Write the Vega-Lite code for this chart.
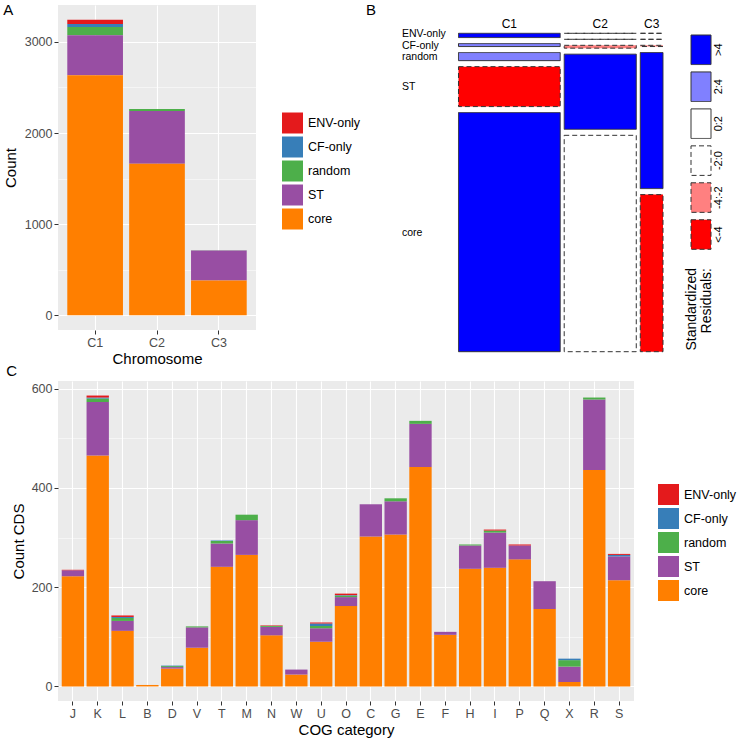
{
  "$schema": "https://vega.github.io/schema/vega-lite/v6.json",
  "padding": {"left": 3, "top": 3, "right": 0, "bottom": 0},
  "background": "white",
  "config": {
    "font": "Liberation Sans",
    "view": {"stroke": null},
    "axis": {
      "domain": false, "tickColor": "#333333", "tickSize": 4, "tickWidth": 1,
      "labelColor": "#4D4D4D", "labelFontSize": 12.5, "labelFont": "Liberation Sans",
      "titleFontSize": 15, "titleFontWeight": "normal", "titleColor": "#000000", "titleFont": "Liberation Sans",
      "gridColor": "#FFFFFF", "gridWidth": 1.1, "labelPadding": 2, "titlePadding": 5
    },
    "legend": {
      "symbolType": "square", "symbolSize": 441, "symbolStrokeWidth": 0, "symbolOpacity": 1,
      "labelFontSize": 12.5, "labelColor": "#000000", "labelFont": "Liberation Sans",
      "rowPadding": 3, "labelOffset": 5, "padding": 0
    },
    "title": {"fontSize": 15, "fontWeight": "normal", "anchor": "start", "font": "Liberation Sans", "color": "#000000"}
  },
  "datasets": {
    "chrom": [
      {"chromosome": "C1", "category": "ENV-only", "count": 47, "residual": 5.2},
      {"chromosome": "C1", "category": "CF-only", "count": 33, "residual": 2.6},
      {"chromosome": "C1", "category": "random", "count": 89, "residual": 3.1},
      {"chromosome": "C1", "category": "ST", "count": 440, "residual": -9.5},
      {"chromosome": "C1", "category": "core", "count": 2634, "residual": 6.8},
      {"chromosome": "C2", "category": "ENV-only", "count": 0, "residual": -1.5},
      {"chromosome": "C2", "category": "CF-only", "count": 0, "residual": -1.2},
      {"chromosome": "C2", "category": "random", "count": 22, "residual": -3.0},
      {"chromosome": "C2", "category": "ST", "count": 578, "residual": 4.9},
      {"chromosome": "C2", "category": "core", "count": 1664, "residual": -1.4},
      {"chromosome": "C3", "category": "ENV-only", "count": 0, "residual": -0.9},
      {"chromosome": "C3", "category": "CF-only", "count": 0, "residual": -0.7},
      {"chromosome": "C3", "category": "random", "count": 3, "residual": -2.6},
      {"chromosome": "C3", "category": "ST", "count": 330, "residual": 10.2},
      {"chromosome": "C3", "category": "core", "count": 381, "residual": -8.1}
    ],
    "cog": [
      {"cog": "J", "category": "core", "count": 222}, {"cog": "J", "category": "ST", "count": 12}, {"cog": "J", "category": "ENV-only", "count": 1},
      {"cog": "K", "category": "core", "count": 465}, {"cog": "K", "category": "ST", "count": 108}, {"cog": "K", "category": "random", "count": 7}, {"cog": "K", "category": "CF-only", "count": 2}, {"cog": "K", "category": "ENV-only", "count": 4},
      {"cog": "L", "category": "core", "count": 112}, {"cog": "L", "category": "ST", "count": 20}, {"cog": "L", "category": "random", "count": 6}, {"cog": "L", "category": "CF-only", "count": 2}, {"cog": "L", "category": "ENV-only", "count": 3},
      {"cog": "B", "category": "core", "count": 3},
      {"cog": "D", "category": "core", "count": 36}, {"cog": "D", "category": "ST", "count": 3}, {"cog": "D", "category": "random", "count": 2}, {"cog": "D", "category": "CF-only", "count": 1},
      {"cog": "V", "category": "core", "count": 78}, {"cog": "V", "category": "ST", "count": 41}, {"cog": "V", "category": "random", "count": 2},
      {"cog": "T", "category": "core", "count": 241}, {"cog": "T", "category": "ST", "count": 47}, {"cog": "T", "category": "random", "count": 5}, {"cog": "T", "category": "CF-only", "count": 1},
      {"cog": "M", "category": "core", "count": 265}, {"cog": "M", "category": "ST", "count": 70}, {"cog": "M", "category": "random", "count": 11},
      {"cog": "N", "category": "core", "count": 103}, {"cog": "N", "category": "ST", "count": 17}, {"cog": "N", "category": "random", "count": 2}, {"cog": "N", "category": "ENV-only", "count": 1},
      {"cog": "W", "category": "core", "count": 24}, {"cog": "W", "category": "ST", "count": 10},
      {"cog": "U", "category": "core", "count": 90}, {"cog": "U", "category": "ST", "count": 27}, {"cog": "U", "category": "random", "count": 5}, {"cog": "U", "category": "CF-only", "count": 5}, {"cog": "U", "category": "ENV-only", "count": 2},
      {"cog": "O", "category": "core", "count": 162}, {"cog": "O", "category": "ST", "count": 18}, {"cog": "O", "category": "random", "count": 3}, {"cog": "O", "category": "CF-only", "count": 1}, {"cog": "O", "category": "ENV-only", "count": 3},
      {"cog": "C", "category": "core", "count": 302}, {"cog": "C", "category": "ST", "count": 65},
      {"cog": "G", "category": "core", "count": 306}, {"cog": "G", "category": "ST", "count": 67}, {"cog": "G", "category": "random", "count": 6},
      {"cog": "E", "category": "core", "count": 442}, {"cog": "E", "category": "ST", "count": 87}, {"cog": "E", "category": "random", "count": 6},
      {"cog": "F", "category": "core", "count": 104}, {"cog": "F", "category": "ST", "count": 6},
      {"cog": "H", "category": "core", "count": 237}, {"cog": "H", "category": "ST", "count": 47}, {"cog": "H", "category": "random", "count": 2},
      {"cog": "I", "category": "core", "count": 239}, {"cog": "I", "category": "ST", "count": 71}, {"cog": "I", "category": "random", "count": 4}, {"cog": "I", "category": "ENV-only", "count": 2},
      {"cog": "P", "category": "core", "count": 256}, {"cog": "P", "category": "ST", "count": 28}, {"cog": "P", "category": "ENV-only", "count": 2},
      {"cog": "Q", "category": "core", "count": 156}, {"cog": "Q", "category": "ST", "count": 56},
      {"cog": "X", "category": "core", "count": 9}, {"cog": "X", "category": "ST", "count": 31}, {"cog": "X", "category": "random", "count": 13}, {"cog": "X", "category": "CF-only", "count": 3},
      {"cog": "R", "category": "core", "count": 436}, {"cog": "R", "category": "ST", "count": 142}, {"cog": "R", "category": "random", "count": 4},
      {"cog": "S", "category": "core", "count": 214}, {"cog": "S", "category": "ST", "count": 48}, {"cog": "S", "category": "CF-only", "count": 3}, {"cog": "S", "category": "ENV-only", "count": 2}
    ]
  },
  "vconcat": [
    {
      "hconcat": [
        {
          "title": {"text": "A", "offset": -13},
          "width": 198,
          "height": 325,
          "view": {"fill": "#EBEBEB", "stroke": null},
          "data": {"name": "chrom"},
          "transform": [
            {"window": [{"op": "row_number", "as": "rowIdx"}], "groupby": ["chromosome"]}
          ],
          "layer": [
            {
              "mark": {"type": "bar"},
              "encoding": {
                "x": {"field": "chromosome", "type": "nominal", "scale": {"paddingInner": 0.1, "paddingOuter": 0.15},
                      "axis": {"title": "Chromosome", "labelAngle": 0, "grid": true, "bandPosition": 0.5, "titlePadding": 3}},
                "y": {"field": "count", "type": "quantitative", "stack": "zero",
                      "scale": {"domain": [-162, 3405], "nice": false, "zero": false},
                      "axis": {"title": "Count", "values": [0, 1000, 2000, 3000], "format": "d", "grid": true, "titlePadding": 6}},
                "order": {"field": "rowIdx", "sort": "descending"},
                "color": {"field": "category", "type": "nominal",
                          "sort": ["ENV-only", "CF-only", "random", "ST", "core"],
                          "scale": {"domain": ["ENV-only", "CF-only", "random", "ST", "core"], "range": ["#E41A1C", "#377EB8", "#4DAF4A", "#984EA3", "#FF7F00"]},
                          "legend": {"orient": "none", "legendX": 224, "legendY": 107.5, "title": null}}
              }
            },
            {
              "mark": {"type": "bar", "opacity": 0},
              "encoding": {
                "x": {"field": "chromosome", "type": "nominal"},
                "y": {"field": "count", "type": "quantitative",
                      "axis": {"orient": "right", "values": [500, 1500, 2500], "grid": true, "gridWidth": 0.5, "labels": false, "ticks": false, "title": null, "domain": false, "minExtent": 0, "maxExtent": 0}}
              }
            }
          ],
          "resolve": {"axis": {"y": "independent"}}
        },
        {
          "hconcat": [
            {
              "title": {"text": "B", "offset": -13, "frame": "group", "dx": -91},
              "width": 206,
              "height": 347,
              "data": {"name": "chrom"},
              "transform": [
                {"window": [{"op": "sum", "field": "count", "as": "cumEnd"}], "frame": [null, 0]},
                {"window": [{"op": "sum", "field": "count", "as": "cumStart"}], "frame": [null, -1]},
                {"joinaggregate": [{"op": "min", "field": "cumStart", "as": "xStart"}, {"op": "max", "field": "cumEnd", "as": "xEnd"}], "groupby": ["chromosome"]},
                {"window": [{"op": "row_number", "as": "rowIdx"}], "groupby": ["chromosome"]},
                {"stack": "count", "groupby": ["chromosome"], "offset": "normalize", "as": ["y0", "y1"]},
                {"window": [{"op": "dense_rank", "as": "colIdx"}], "sort": [{"field": "chromosome", "order": "ascending"}]}
              ],
              "layer": [
                {
                  "mark": {"type": "rect", "stroke": "#333333", "strokeWidth": 1,
                           "strokeDash": {"expr": "datum.residual < 0 ? [5, 3] : [1, 0]"},
                           "xOffset": {"expr": "(datum.colIdx - 1) * 4"}, "x2Offset": {"expr": "(datum.colIdx - 1) * 4"},
                           "yOffset": {"expr": "(datum.rowIdx - 1) * 6"}, "y2Offset": {"expr": "(datum.rowIdx - 1) * 6"}},
                  "encoding": {
                    "x": {"field": "xStart", "type": "quantitative", "scale": {"domain": [0, 6221], "range": [0, 198], "nice": false, "zero": false}, "axis": null},
                    "x2": {"field": "xEnd"},
                    "y": {"field": "y0", "type": "quantitative", "scale": {"domain": [0, 1], "range": [28.3, 322.7], "nice": false}, "axis": null},
                    "y2": {"field": "y1"},
                    "fill": {"field": "residual", "type": "quantitative",
                             "scale": {"type": "threshold", "domain": [-4, -2, 0, 2, 4], "range": ["#FF0000", "#FF8080", "#FFFFFF", "#FFFFFF", "#8080FF", "#0000FF"]},
                             "legend": null}
                  }
                },
                {
                  "transform": [
                    {"fold": ["xStart", "xEnd"], "as": ["k", "v"]},
                    {"aggregate": [{"op": "mean", "field": "v", "as": "xMid"}], "groupby": ["chromosome", "colIdx"]}
                  ],
                  "mark": {"type": "text", "fontSize": 12, "color": "#000000", "baseline": "alphabetic", "dy": -5,
                           "xOffset": {"expr": "(datum.colIdx - 1) * 4"}},
                  "encoding": {
                    "x": {"field": "xMid", "type": "quantitative"},
                    "y": {"datum": 0, "type": "quantitative"},
                    "text": {"field": "chromosome"}
                  }
                },
                {
                  "transform": [
                    {"filter": "datum.chromosome == 'C1'"},
                    {"fold": ["y0", "y1"], "as": ["k", "v"]},
                    {"aggregate": [{"op": "mean", "field": "v", "as": "yMid"}], "groupby": ["category", "rowIdx"]}
                  ],
                  "mark": {"type": "text", "fontSize": 10.5, "color": "#000000", "align": "left", "baseline": "middle", "dx": -55,
                           "yOffset": {"expr": "(datum.rowIdx - 1) * 6 + (datum.rowIdx == 1 ? -1.5 : 0.5)"}},
                  "encoding": {
                    "x": {"datum": 0, "type": "quantitative"},
                    "y": {"field": "yMid", "type": "quantitative"},
                    "text": {"field": "category"}
                  }
                }
              ]
            },
            {
              "title": {"text": ["Standardized", "Residuals:"], "orient": "bottom", "angle": 270, "align": "right", "baseline": "top",
                        "anchor": "start", "frame": "group", "offset": 16, "fontSize": 14, "lineHeight": 15, "dy": -6},
              "width": 20,
              "height": 247,
              "data": {"values": [{"cls": ">4"}, {"cls": "2:4"}, {"cls": "0:2"}, {"cls": "-2:0"}, {"cls": "-4:-2"}, {"cls": "<-4"}]},
              "layer": [
                {
                  "mark": {"type": "rect", "stroke": "#333333", "strokeWidth": 1,
                           "strokeDash": {"expr": "indexof(['-2:0', '-4:-2', '<-4'], datum.cls) >= 0 ? [5, 3] : [1, 0]"}},
                  "encoding": {
                    "y": {"field": "cls", "type": "nominal", "sort": null,
                          "scale": {"domain": [">4", "2:4", "0:2", "-2:0", "-4:-2", "<-4"], "paddingInner": 0.2, "paddingOuter": 0, "range": [30, 244.3]}, "axis": null},
                    "fill": {"field": "cls", "type": "nominal",
                             "scale": {"domain": [">4", "2:4", "0:2", "-2:0", "-4:-2", "<-4"], "range": ["#0000FF", "#8080FF", "#FFFFFF", "#FFFFFF", "#FF8080", "#FF0000"]},
                             "legend": null}
                  }
                },
                {
                  "mark": {"type": "text", "angle": 270, "fontSize": 11, "color": "#000000", "align": "center", "baseline": "middle", "dy": 18},
                  "encoding": {
                    "y": {"field": "cls", "type": "nominal", "sort": null},
                    "text": {"field": "cls"}
                  }
                }
              ]
            }
          ],
          "spacing": 21,
          "resolve": {"scale": {"x": "independent", "y": "independent", "fill": "independent"}}
        }
      ],
      "spacing": 5,
      "resolve": {"scale": {"x": "independent", "y": "independent", "color": "independent", "fill": "independent"}}
    },
    {
      "title": {"text": "C", "offset": 2, "dx": -5},
      "width": 576,
      "height": 320,
      "view": {"fill": "#EBEBEB", "stroke": null},
      "data": {"name": "cog"},
      "transform": [
        {"window": [{"op": "row_number", "as": "rowIdx"}], "groupby": ["cog"]}
      ],
      "layer": [
        {
          "mark": {"type": "bar"},
          "encoding": {
            "x": {"field": "cog", "type": "nominal",
                  "sort": ["J", "K", "L", "B", "D", "V", "T", "M", "N", "W", "U", "O", "C", "G", "E", "F", "H", "I", "P", "Q", "X", "R", "S"],
                  "scale": {"paddingInner": 0.1, "paddingOuter": 0.15},
                  "axis": {"title": "COG category", "labelAngle": 0, "grid": true, "bandPosition": 0.5, "titlePadding": 3}},
            "y": {"field": "count", "type": "quantitative", "stack": "zero",
                  "scale": {"domain": [-29.3, 615.3], "nice": false, "zero": false},
                  "axis": {"title": "Count CDS", "values": [0, 200, 400, 600], "format": "d", "grid": true, "titlePadding": 5}},
            "order": {"field": "rowIdx", "sort": "ascending"},
            "color": {"field": "category", "type": "nominal",
                      "sort": ["ENV-only", "CF-only", "random", "ST", "core"],
                      "scale": {"domain": ["ENV-only", "CF-only", "random", "ST", "core"], "range": ["#E41A1C", "#377EB8", "#4DAF4A", "#984EA3", "#FF7F00"]},
                      "legend": {"orient": "none", "legendX": 600, "legendY": 103, "title": null}}
          }
        },
        {
          "mark": {"type": "bar", "opacity": 0},
          "encoding": {
            "x": {"field": "cog", "type": "nominal", "sort": ["J", "K", "L", "B", "D", "V", "T", "M", "N", "W", "U", "O", "C", "G", "E", "F", "H", "I", "P", "Q", "X", "R", "S"]},
            "y": {"field": "count", "type": "quantitative",
                  "axis": {"orient": "right", "values": [100, 300, 500], "grid": true, "gridWidth": 0.5, "labels": false, "ticks": false, "title": null, "domain": false, "minExtent": 0, "maxExtent": 0}}
          }
        }
      ],
      "resolve": {"axis": {"y": "independent"}}
    }
  ],
  "spacing": -3,
  "resolve": {"scale": {"x": "independent", "y": "independent", "color": "independent"}}
}
